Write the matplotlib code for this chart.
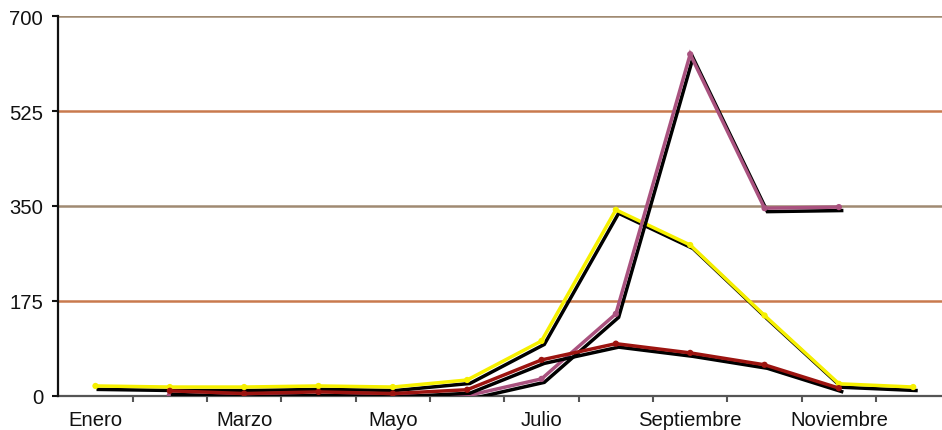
"""
Monthly line chart with three series and a black drop shadow on each line.
"""
import numpy as np
import matplotlib
matplotlib.use("Agg")
from matplotlib import pyplot as plt
import matplotlib.patheffects as pe

nan = np.nan

meses = ["Enero", "Febrero", "Marzo", "Abril", "Mayo", "Junio", "Julio",
         "Agosto", "Septiembre", "Octubre", "Noviembre", "Diciembre"]
yticks = [0, 175, 350, 525, 700]

serie_amarilla = [18, 16, 16, 18, 16, 29, 101, 343, 278, 148, 22, 16]
serie_magenta = [nan, 1, 0, 0, 0, 0, 31, 151, 630, 346, 348, nan]
serie_roja = [nan, 9, 4, 7, 4, 11, 66, 96, 79, 57, 14, nan]

series = [
    (serie_amarilla, "#f6f000"),
    (serie_magenta, "#a9527f"),
    (serie_roja, "#9c1410"),
]

grid_colors = {175: "#c97a4e", 350: "#a08a72", 525: "#c97a4e", 700: "#a08a72"}

plt.rcParams["font.family"] = ["Liberation Sans", "DejaVu Sans"]

fig = plt.figure(figsize=(9.42, 4.31), dpi=100)
# axes run a little past the right edge of the figure, as in the original
ax = fig.add_axes([58.3 / 942, 34.3 / 431, 892.1 / 942, 379.4 / 431])

x = np.arange(len(meses))

for valores, color in series:
    ax.plot(x, valores, color=color, linewidth=2.5, marker="o",
            markersize=4.5, markeredgewidth=0, solid_joinstyle="miter",
            path_effects=[pe.SimpleLineShadow(offset=(2.0, -2.5),
                                              shadow_color="black",
                                              alpha=1.0),
                          pe.Normal()],
            zorder=3)

for yv, c in grid_colors.items():
    ax.axhline(yv, color=c, linewidth=1.8, zorder=1)

ax.set_xlim(-0.5, len(meses) - 0.5)
ax.set_ylim(0, 700)

ax.set_yticks(yticks)
ax.set_yticklabels([str(v) for v in yticks])
ax.tick_params(axis="y", direction="out", length=4, width=1.5,
               colors="#111111", labelsize=14.6, pad=7)

ax.set_xticks(x)
ax.set_xticklabels([m if i % 2 == 0 else "" for i, m in enumerate(meses)])
ax.tick_params(axis="x", which="major", length=0, labelsize=14.6,
               colors="#111111", pad=10.5)
ax.set_xticks(np.arange(0.5, len(meses) - 0.5, 1), minor=True)
ax.tick_params(axis="x", which="minor", direction="out", length=4,
               width=1.5, color="#555555")

for side in ["top", "right"]:
    ax.spines[side].set_visible(False)
ax.spines["left"].set_color("#111111")
ax.spines["left"].set_linewidth(1.6)
ax.spines["bottom"].set_color("#555555")
ax.spines["bottom"].set_linewidth(1.6)
ax.spines["bottom"].set_zorder(2)

fig.savefig("out.png", dpi=100)
